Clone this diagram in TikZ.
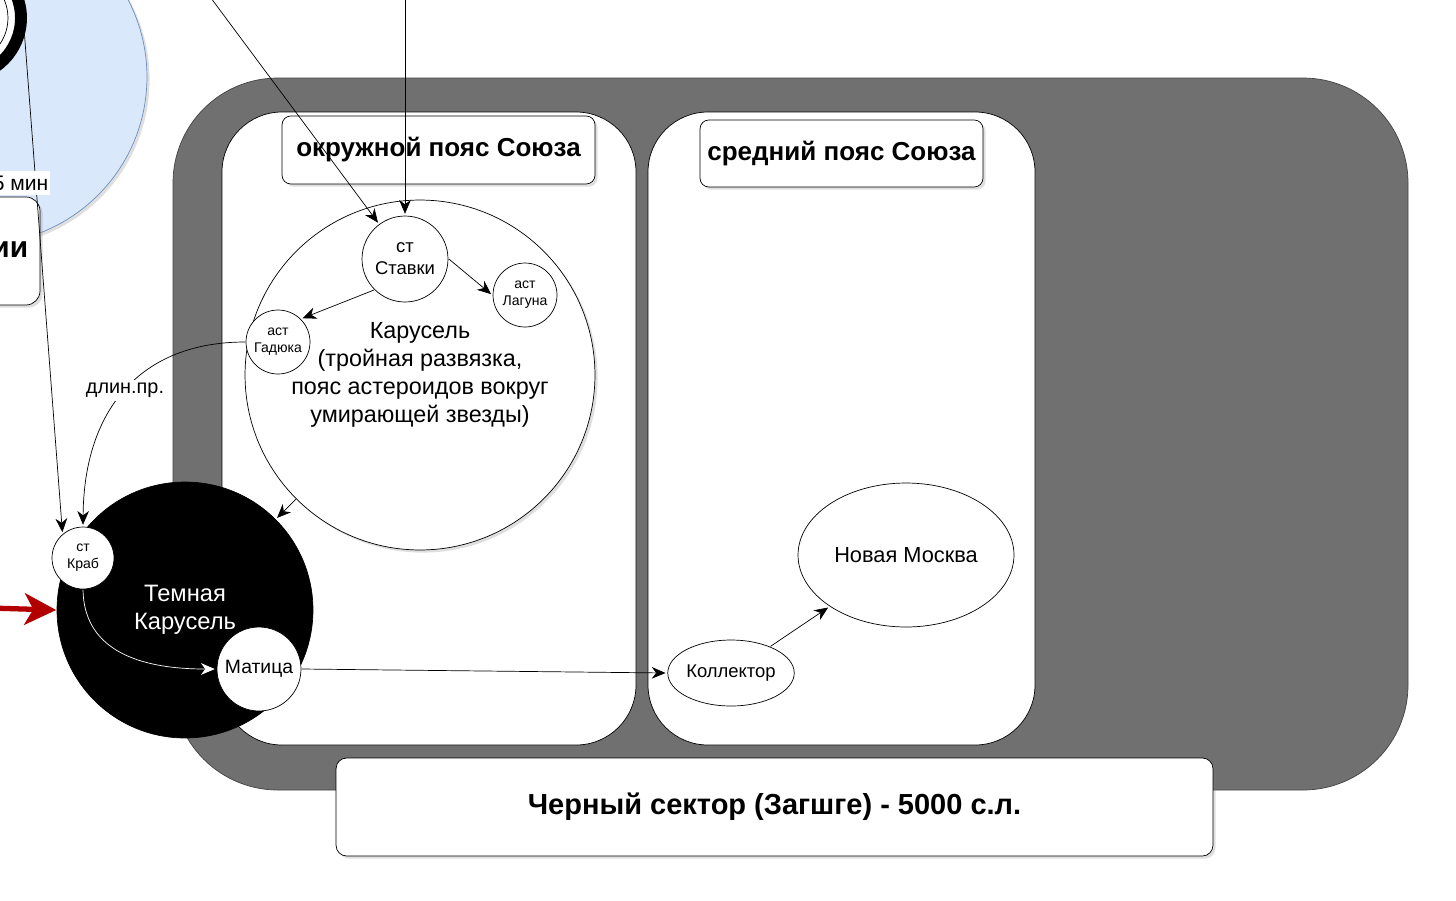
\documentclass[tikz,border=0pt]{standalone}
\usepackage{fontspec}
\setmainfont{Liberation Sans}
\usetikzlibrary{arrows.meta,shapes.geometric,shadows}

\definecolor{sectorgray}{HTML}{707070}
\definecolor{beltblue}{HTML}{DAE8FC}
\definecolor{beltblueline}{HTML}{6C8EBF}
\definecolor{arrowred}{HTML}{B20000}

\begin{document}
\begin{tikzpicture}[x=0.02cm, y=-0.02cm]
\tikzset{ >={Stealth[length=9.5pt,width=8pt,inset=3pt]}, line width=1pt,
  softshadow/.style={drop shadow={opacity=0.25,shadow xshift=1.5pt,shadow yshift=-1.5pt}},
  station/.style={draw, circle, fill=white, inner sep=0pt, align=center},
  beltlabel/.style={draw, fill=white, rounded corners=5pt, softshadow, font=\bfseries\fontsize{14.8}{17}\selectfont},
}

\useasboundingbox (0,0) rectangle (1456,900);

%\draw [lightgray, dashed](0,0) grid (1456,900);

% what is left of the neighbouring part
\draw [beltblueline, fill=beltblue, softshadow] (-20,77) circle [radius=3.34cm];
\draw [line width=6.8pt, fill=white] (-38,18) circle [radius=1.18cm];
\draw (-38,18) circle [radius=0.92cm];
\coordinate (ring) at (24,28);
\draw [fill=white, rounded corners=8pt, softshadow] (-100,197) rectangle (40,305);
\node [anchor=east, inner sep=0pt, font=\bfseries\fontsize{17}{20}\selectfont] (ii) at (29,250) {ии};

% sector and belts
\draw [sectorgray!60!black, fill=sectorgray, rounded corners=2.1cm] (173,78) rectangle (1408,790);
\draw [fill=white, rounded corners=1.2cm] (222,112) rectangle (636,745);
\draw [fill=white, rounded corners=1.2cm] (648,112) rectangle (1035,745);

\node [beltlabel, minimum width=6.26cm, minimum height=1.36cm] (okr) at (438.5,150) {окружной пояс Союза};
\node [beltlabel, minimum width=5.66cm, minimum height=1.34cm] (sred) at (841.5,153.5) {средний пояс Союза};
\node [draw, fill=white, rounded corners=6pt, softshadow, minimum width=17.54cm, minimum height=1.96cm,
       font=\bfseries\fontsize{16.5}{19}\selectfont] (sector) at (774.5,807) {Черный сектор (Загшге) - 5000 с.л.};

% stations
\node [station, softshadow, minimum size=7cm, font=\fontsize{13.3}{15.9}\selectfont] (karusel) at (420,375)
      {Карусель\\(тройная развязка,\\пояс астероидов вокруг\\умирающей звезды)};
\node [station, minimum size=1.72cm, font=\fontsize{10.5}{12.5}\selectfont] (stavki) at (405,259) {ст\\Ставки};
\node [station, minimum size=1.28cm, font=\fontsize{8}{9.6}\selectfont] (laguna) at (525,295) {аст\\Лагуна};
\node [station, minimum size=1.28cm, font=\fontsize{8}{9.6}\selectfont] (gadyuka) at (278,342) {аст\\Гадюка};

\node [draw, circle, fill=black, text=white, minimum size=5.12cm, align=center,
       font=\fontsize{13.5}{15.9}\selectfont] (dark) at (185,610) {Темная\\Карусель};
\node [station, minimum size=1.24cm, font=\fontsize{8}{9.6}\selectfont] (krab) at (83,558) {ст\\Краб};
\node [station, minimum size=1.68cm, font=\fontsize{11}{13}\selectfont] (matica) at (259,669) {Матица};

\node [draw, ellipse, fill=white, minimum width=2.36cm, minimum height=1.32cm, inner sep=0pt,
       font=\fontsize{10.5}{12.5}\selectfont] (kollektor) at (731,673) {Коллектор};
\node [draw, ellipse, fill=white, minimum width=4.32cm, minimum height=2.88cm, inner sep=0pt,
       font=\fontsize{12.4}{14}\selectfont] (moskva) at (906,555) {Новая Москва};

% connectors
\coordinate (topA) at (205,-10);
\coordinate (topB) at (405,-10);
\coordinate (redin) at (-10,608);

\draw [->] (topA) -- (stavki);
\draw [->] (topB) -- (stavki);
\draw [->] (ring) -- (krab.130);
\draw [->] (stavki.east) -- (laguna.west);
\draw [->] (stavki.225) -- (gadyuka.45);
\draw [->] (gadyuka.west) .. controls (140,342) and (84,410) .. (krab.north)
      node [pos=0.5, fill=white, inner sep=1.5pt, font=\fontsize{11.3}{13}\selectfont] (dlin) {длин.пр.};
\draw [->] (karusel.225) -- (dark.45);
\draw [->, white] (krab.south) .. controls (84,645) and (130,669) .. (matica.west);
\draw [->] (matica.east) -- (kollektor.west);
\draw [->] (kollektor) -- (moskva);
\draw [->, arrowred, line width=3pt, >={Stealth[length=18pt,width=18pt,inset=5pt]}] (redin) -- (dark.west);

\node [anchor=east, fill=white, inner xsep=1pt, inner ysep=2.5pt, font=\fontsize{12}{14}\selectfont] (min) at (51,183) {5 мин};

\end{tikzpicture}
\end{document}
